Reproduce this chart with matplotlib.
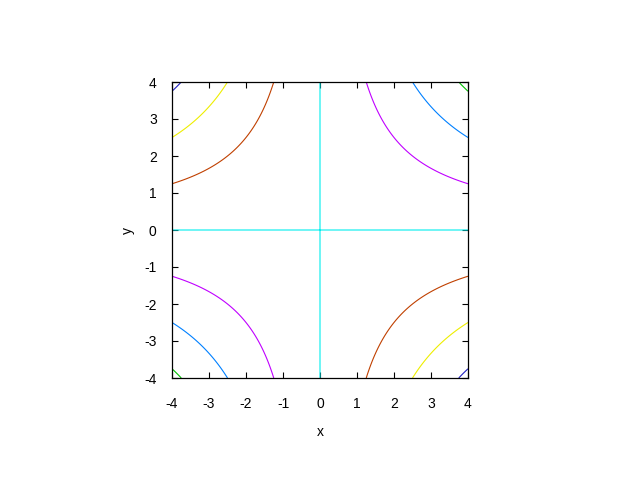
import numpy as np
import matplotlib
matplotlib.use("Agg")
import matplotlib.pyplot as plt

plt.rcParams['font.family'] = ['Liberation Sans', 'DejaVu Sans']

levels = [-15, -10, -5, 0, 5, 10, 15]
level_colors = ['#2020c0', '#eeee00', '#c04000', '#00eeee', '#c000ff', '#0080ff', '#00c000']
ticks = [-4, -3, -2, -1, 0, 1, 2, 3, 4]
xs = np.linspace(-4, 4, 400)
ys = np.linspace(-4, 4, 400)
X, Y = np.meshgrid(xs, ys)
Z = X * Y

fig = plt.figure(figsize=(6.4, 4.8), dpi=100)
ax = fig.add_axes([172/640, 1-378/480, (468-172)/640, (378-82)/480])
ax.contour(X, Y, Z, levels=levels, colors=level_colors, linewidths=0.8)
ax.set_xlim(-4, 4)
ax.set_ylim(-4, 4)
ax.set_xticks(ticks)
ax.set_yticks(ticks)
ax.set_xticklabels([str(t) for t in ticks])
ax.set_yticklabels([str(t) for t in ticks])
ax.tick_params(direction='in', length=4, width=0.8, top=True, right=True,
               labelsize=10, colors='black')
ax.tick_params(axis='x', pad=14)
ax.tick_params(axis='y', pad=11)
for s in ax.spines.values():
    s.set_linewidth(0.9)
ax.set_xlabel('x', fontsize=10, labelpad=10)
ax.set_ylabel('y', fontsize=10, labelpad=7)
fig.savefig('out.png', dpi=100)
